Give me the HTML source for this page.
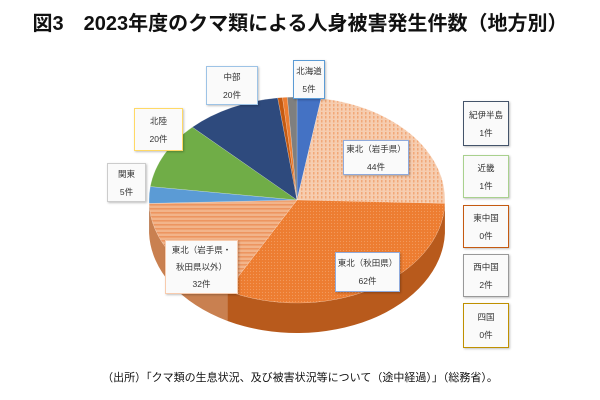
<!DOCTYPE html>
<html><head><meta charset="utf-8">
<style>
body{margin:0;width:600px;height:400px;background:#fff;font-family:"Liberation Sans","Noto Sans CJK JP",sans-serif;position:relative;overflow:hidden}
.t{position:absolute;left:0;width:600px;top:7px;text-align:center;font-weight:bold;font-size:20px;color:#111}
.f{position:absolute;left:0;width:600px;top:369px;text-align:center;font-size:11px;color:#111}
.b{position:absolute;background:#fafafa;border:1.5px solid;font-size:8.5px;color:#333;text-align:center;line-height:18px;box-shadow:1px 1px 2px rgba(0,0,0,.25);display:flex;flex-direction:column;justify-content:center}
</style></head><body>
<div class="t">図3　2023年度のクマ類による人身被害発生件数（地方別）</div>
<svg id="s" width="600" height="400" style="position:absolute;left:0;top:0">
<defs>
<pattern id="dots" width="4" height="4" patternUnits="userSpaceOnUse"><rect width="4" height="4" fill="#f6cdb0"/><rect x="1" y="0" width="1.5" height="2.5" fill="#f1a878"/></pattern>
<pattern id="dd" width="3" height="3" patternUnits="userSpaceOnUse"><rect width="3" height="3" fill="#ed7d31"/><circle cx="1.5" cy="1.5" r=".6" fill="#f39a5c"/></pattern>
<pattern id="st" width="4" height="4" patternUnits="userSpaceOnUse"><rect width="4" height="4" fill="#f2b48a"/><rect y="0" width="4" height="1.6" fill="#ed9560"/></pattern>
</defs>
</svg>
<div class="b" style="left:293px;top:60px;width:30px;height:37px;border-color:#5b9bd5">北海道<br>5件</div>
<div class="b" style="left:206px;top:66px;width:50px;height:37px;border-color:#9dc3e6">中部<br>20件</div>
<div class="b" style="left:134px;top:108px;width:47px;height:41px;border-color:#ffd966">北陸<br>20件</div>
<div class="b" style="left:107px;top:163px;width:37px;height:37px;border-color:#ccc">関東<br>5件</div>
<div class="b" style="left:343px;top:140px;width:64px;height:33px;border-color:#8faadc">東北（岩手県）<br>44件</div>
<div class="b" style="left:335px;top:252px;width:63px;height:38px;border-color:#8faadc">東北（秋田県）<br>62件</div>
<div class="b" style="left:165px;top:240px;width:71px;height:52px;border-color:#f8cbad;line-height:17px">東北（岩手県・<br>秋田県以外）<br>32件</div>
<div class="b" style="left:463px;top:101px;width:44px;height:43px;border-color:#44546a">紀伊半島<br>1件</div>
<div class="b" style="left:463px;top:155px;width:44px;height:41px;border-color:#a9d18e">近畿<br>1件</div>
<div class="b" style="left:463px;top:205px;width:44px;height:41px;border-color:#c55a11">東中国<br>0件</div>
<div class="b" style="left:463px;top:254px;width:44px;height:41px;border-color:#999">西中国<br>2件</div>
<div class="b" style="left:463px;top:303px;width:44px;height:43px;border-color:#bf9000">四国<br>0件</div>
<div class="f">（出所）「クマ類の生息状況、及び被害状況等について（途中経過）」（総務省）。</div>
<script>
var cx=297,cy=200,rx=148,ry=103,d=30;
var data=[[5,"#4472c4","#2f5597"],[44,"url(#dots)","#d99a70"],[62,"url(#dd)","#b85a1c"],[32,"url(#st)","#c98050"],[5,"#5b9bd5","#3f7ab0"],[20,"#70ad47","#4f8030"],[20,"#2e4a7d","#1f3358"],[1,"#c55a11","#8a3f0b"],[1,"#ed7d31","#a05020"],[2,"#7f7f7f","#555"]];
var tot=192,s=document.getElementById("s"),h="";
function P(a,dy){a=a*Math.PI/180;return [(cx+rx*Math.sin(a)).toFixed(2),(cy-ry*Math.cos(a)+(dy||0)).toFixed(2)];}
var a=0,sl=[];
data.forEach(function(v){var b=a+v[0]/tot*360;sl.push([a,b,v]);a=b;});
sl.forEach(function(q){var a0=Math.max(q[0],90),a1=Math.min(q[1],270);if(a1<=a0)return;
var p0=P(a0),p1=P(a1),p2=P(a1,d),p3=P(a0,d);
h+='<path d="M'+p0+' A'+rx+' '+ry+' 0 0 1 '+p1+' L'+p2+' A'+rx+' '+ry+' 0 0 0 '+p3+'Z" fill="'+q[2][2]+'"/>';});
sl.forEach(function(q){var p0=P(q[0]),p1=P(q[1]),l=(q[1]-q[0])>180?1:0;
h+='<path d="M'+cx+' '+cy+' L'+p0+' A'+rx+' '+ry+' 0 '+l+' 1 '+p1+'Z" fill="'+q[2][1]+'" stroke="rgba(255,255,255,.4)" stroke-width=".5"/>';});
s.insertAdjacentHTML("beforeend",h);
</script>
</body></html>
